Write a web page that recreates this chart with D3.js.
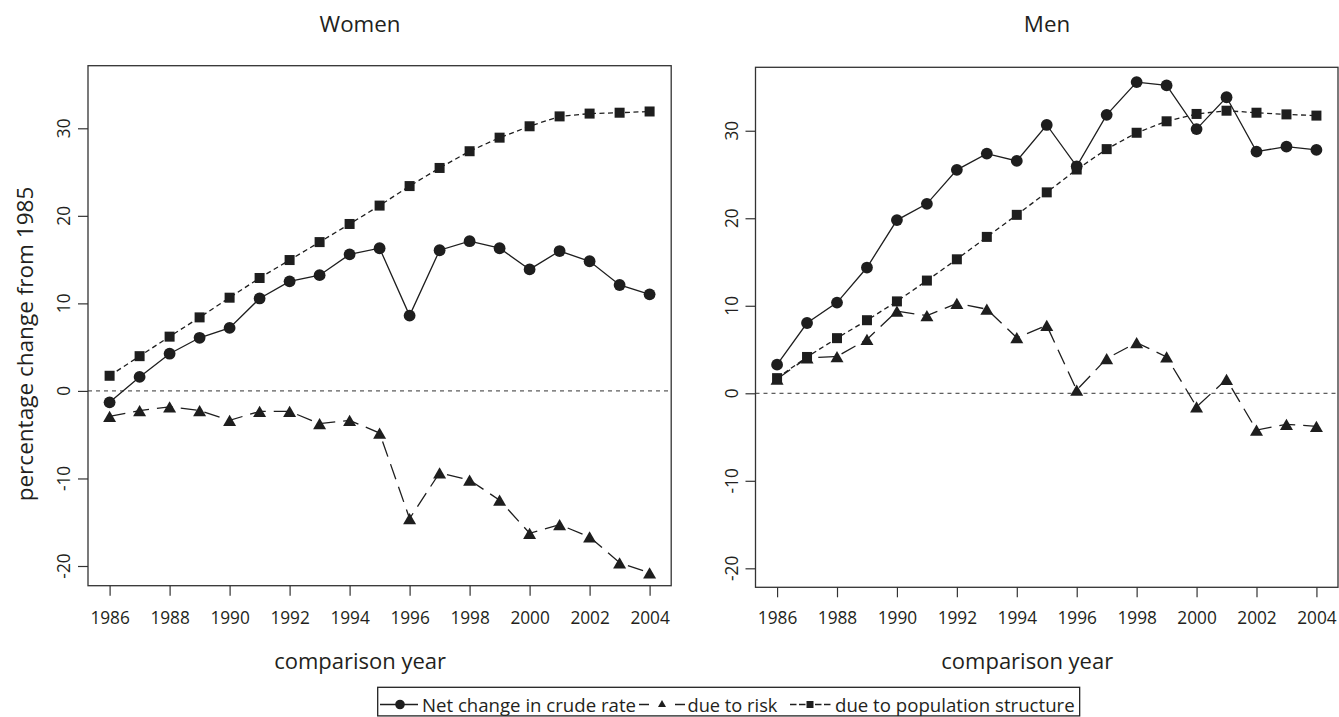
<!DOCTYPE html>
<html><head><meta charset="utf-8">
<script src="https://cdn.jsdelivr.net/npm/d3@7"></script>
<style>body{margin:0;background:#fff}svg{display:block}text{font-family:"Open Sans",sans-serif;fill:#231f20}</style>
</head><body><svg id="c" width="1339" height="717"></svg>
<script>
const years = d3.range(1986, 2005);
const xTicks = [1986,1988,1990,1992,1994,1996,1998,2000,2002,2004];
const yTicks = [-20,-10,0,10,20,30];
const panelTitles = ["Women","Men"];
const seriesNames = ["Net change in crude rate","due to risk","due to population structure"];

const womenNet  = [-1.3,1.6,4.25,6.07,7.2,10.56,12.52,13.22,15.6,16.3,8.6,16.07,17.1,16.3,13.88,15.98,14.81,12.1,11.03];
const womenRisk = [-2.9,-2.24,-1.82,-2.24,-3.36,-2.34,-2.34,-3.74,-3.36,-4.81,-14.58,-9.35,-10.19,-12.48,-16.26,-15.28,-16.68,-19.63,-20.79];
const womenPop  = [1.73,3.97,6.2,8.4,10.65,12.9,14.95,17.0,19.07,21.17,23.4,25.47,27.38,28.93,30.23,31.36,31.68,31.78,31.92];

const menNet  = [3.27,8.03,10.36,14.37,19.79,21.65,25.53,27.39,26.55,30.66,25.94,31.82,35.56,35.18,30.19,33.83,27.62,28.19,27.81];
const menRisk = [1.63,4.06,4.2,6.16,9.38,8.87,10.27,9.61,6.35,7.75,0.37,3.97,5.79,4.15,-1.54,1.59,-4.2,-3.55,-3.78];
const menPop  = [1.73,4.15,6.3,8.35,10.5,12.88,15.31,17.87,20.39,22.96,25.57,27.9,29.77,31.08,31.92,32.29,32.06,31.87,31.73];

const svg = d3.select("#c");
const INK = "#1e1e1e";

function fit(sel, target, base) {
  base = base || 20;
  sel.style("font-size", base + "px");
  const w = sel.node().getComputedTextLength();
  const fs = base * target / w;
  sel.style("font-size", fs + "px");
  return fs;
}

function triPath(s) {
  const h = s * Math.sqrt(3) / 2;
  return `M0,${-h/2}L${s/2},${h/2}L${-s/2},${h/2}Z`;
}

const panels = [
  {title: panelTitles[0], titleX: 360, net: womenNet, risk: womenRisk, pop: womenPop,
   x0: 88, x1: 671.2, y0: 585.7, y1: 65.7, yd: [-22.25, 37.15], showYLab: true},
  {title: panelTitles[1], titleX: 1047, net: menNet, risk: menRisk, pop: menPop,
   x0: 755.5, x1: 1338, y0: 587.3, y1: 67.3, yd: [-22.17, 37.25], showYLab: false}
];

const probe = svg.append("text").text("1986");
const tickFS = fit(probe, 39.5, 17);
probe.text("Women");
const titleFS = fit(probe, 81, 22);
probe.remove();

panels.forEach(p => {
  const x = d3.scaleLinear().domain([1985.28, 2004.72]).range([p.x0, p.x1]);
  const y = d3.scaleLinear().domain(p.yd).range([p.y0, p.y1]);
  const g = svg.append("g");

  g.append("line").attr("x1", p.x0).attr("x2", p.x1).attr("y1", y(0)).attr("y2", y(0))
    .attr("stroke", "#333").attr("stroke-width", 1).attr("stroke-dasharray", "4,4");

  const xa = g.append("g").attr("transform", `translate(0,${p.y0})`)
    .call(d3.axisBottom(x).tickValues(xTicks).tickSize(10).tickSizeOuter(0).tickFormat(d3.format("d")));
  xa.select(".domain").remove();
  xa.selectAll(".tick line").attr("stroke", "#333").attr("stroke-width", 1.2);
  xa.selectAll(".tick text").attr("y", 0).attr("dy", null)
    .attr("transform", `translate(0,${617.5 - p.y0 + 0.36 * tickFS})`)
    .style("font-family", '"Open Sans",sans-serif').style("font-size", tickFS + "px")
    .attr("fill", "#231f20");

  const ya = g.append("g").attr("transform", `translate(${p.x0},0)`)
    .call(d3.axisLeft(y).tickValues(yTicks).tickSize(10).tickSizeOuter(0).tickFormat(() => ""));
  ya.select(".domain").remove();
  ya.selectAll(".tick line").attr("stroke", "#333").attr("stroke-width", 1.2);
  ya.selectAll(".tick text").remove();

  const labX = p.x0 - 23.8 + 0.36 * tickFS;
  const yl = g.append("g").attr("class", "ylabs");
  yTicks.forEach(v => {
    const holder = yl.append("g").attr("transform", "translate(" + labX + "," + y(v) + ")");
    holder.append("g").attr("transform", "rotate(-90)")
      .append("text").attr("x", 0).attr("y", 0).attr("text-anchor", "middle")
      .style("font-size", tickFS + "px").text(String(v));
  });

  g.append("rect").attr("x", p.x0).attr("y", p.y1).attr("width", p.x1 - p.x0).attr("height", p.y0 - p.y1)
    .attr("fill", "none").attr("stroke", "#333").attr("stroke-width", 1.3);

  const line = d3.line().x((d, i) => x(years[i])).y(d => y(d));

  g.append("path").attr("d", line(p.pop)).attr("fill", "none").attr("stroke", INK)
    .attr("stroke-width", 1.3).attr("stroke-dasharray", "5,3.5");
  g.selectAll(".sq").data(p.pop).enter().append("rect")
    .attr("x", (d, i) => x(years[i]) - 5).attr("y", d => y(d) - 5)
    .attr("width", 10).attr("height", 10).attr("fill", INK);

  g.append("path").attr("d", line(p.risk)).attr("fill", "none").attr("stroke", INK)
    .attr("stroke-width", 1.3).attr("stroke-dasharray", "16,8");
  g.selectAll(".tr").data(p.risk).enter().append("path")
    .attr("d", triPath(13)).attr("transform", (d, i) => `translate(${x(years[i])},${y(d)})`)
    .attr("fill", INK);

  g.append("path").attr("d", line(p.net)).attr("fill", "none").attr("stroke", INK)
    .attr("stroke-width", 1.3);
  g.selectAll(".ci").data(p.net).enter().append("circle")
    .attr("cx", (d, i) => x(years[i])).attr("cy", d => y(d)).attr("r", 5.9).attr("fill", INK);

  g.append("text").attr("x", p.titleX).attr("y", 32.3).attr("text-anchor", "middle")
    .style("font-size", titleFS + "px").text(p.title);

  const xl = g.append("text").attr("x", (p.x0 + p.x1) / 2 - 19.5).attr("y", 668.5)
    .attr("text-anchor", "middle").text("comparison year");
  fit(xl, 172, 22);

  if (p.showYLab) {
    const t = g.append("text").attr("transform", `translate(33,344) rotate(-90)`)
      .attr("text-anchor", "middle").text("percentage change from 1985");
    fit(t, 315, 22);
  }
});

const lg = svg.append("g");
const lgTop = 687.3, lgMid = 704.5;
const items = [
  {segs: [[380, 418]], mark: 400, shape: "circle", tx: 422, tw: 214},
  {segs: [[639, 649], [675, 685]], mark: 662, shape: "tri", tx: 687.5, tw: 90},
  {segs: [[790, 796.5], [799, 805.5], [815, 821.5], [824, 830.5]], mark: 810, shape: "sq", tx: 835, tw: 240}
];
let legRight = 0;
items.forEach((it, i) => {
  it.segs.forEach(s => {
    lg.append("line").attr("x1", s[0]).attr("x2", s[1]).attr("y1", lgMid).attr("y2", lgMid)
      .attr("stroke", INK).attr("stroke-width", 1.5);
  });
  if (it.shape === "circle") {
    lg.append("circle").attr("cx", it.mark).attr("cy", lgMid).attr("r", 4.8).attr("fill", INK);
  } else if (it.shape === "tri") {
    lg.append("path").attr("d", triPath(8)).attr("transform", `translate(${it.mark},${lgMid - 1})`).attr("fill", INK);
  } else {
    lg.append("rect").attr("x", it.mark - 3.5).attr("y", lgMid - 3.5).attr("width", 7).attr("height", 7).attr("fill", INK);
  }
  const t = lg.append("text").attr("x", it.tx).attr("y", lgMid + 7).text(seriesNames[i]);
  fit(t, it.tw, 20);
  legRight = Math.max(legRight, it.tx + t.node().getComputedTextLength());
});
lg.insert("rect", ":first-child").attr("x", 377.7).attr("y", lgTop).attr("width", legRight + 5 - 377.7).attr("height", 28.6)
  .attr("fill", "#fff").attr("stroke", "#222").attr("stroke-width", 1.3);
</script></body></html>
